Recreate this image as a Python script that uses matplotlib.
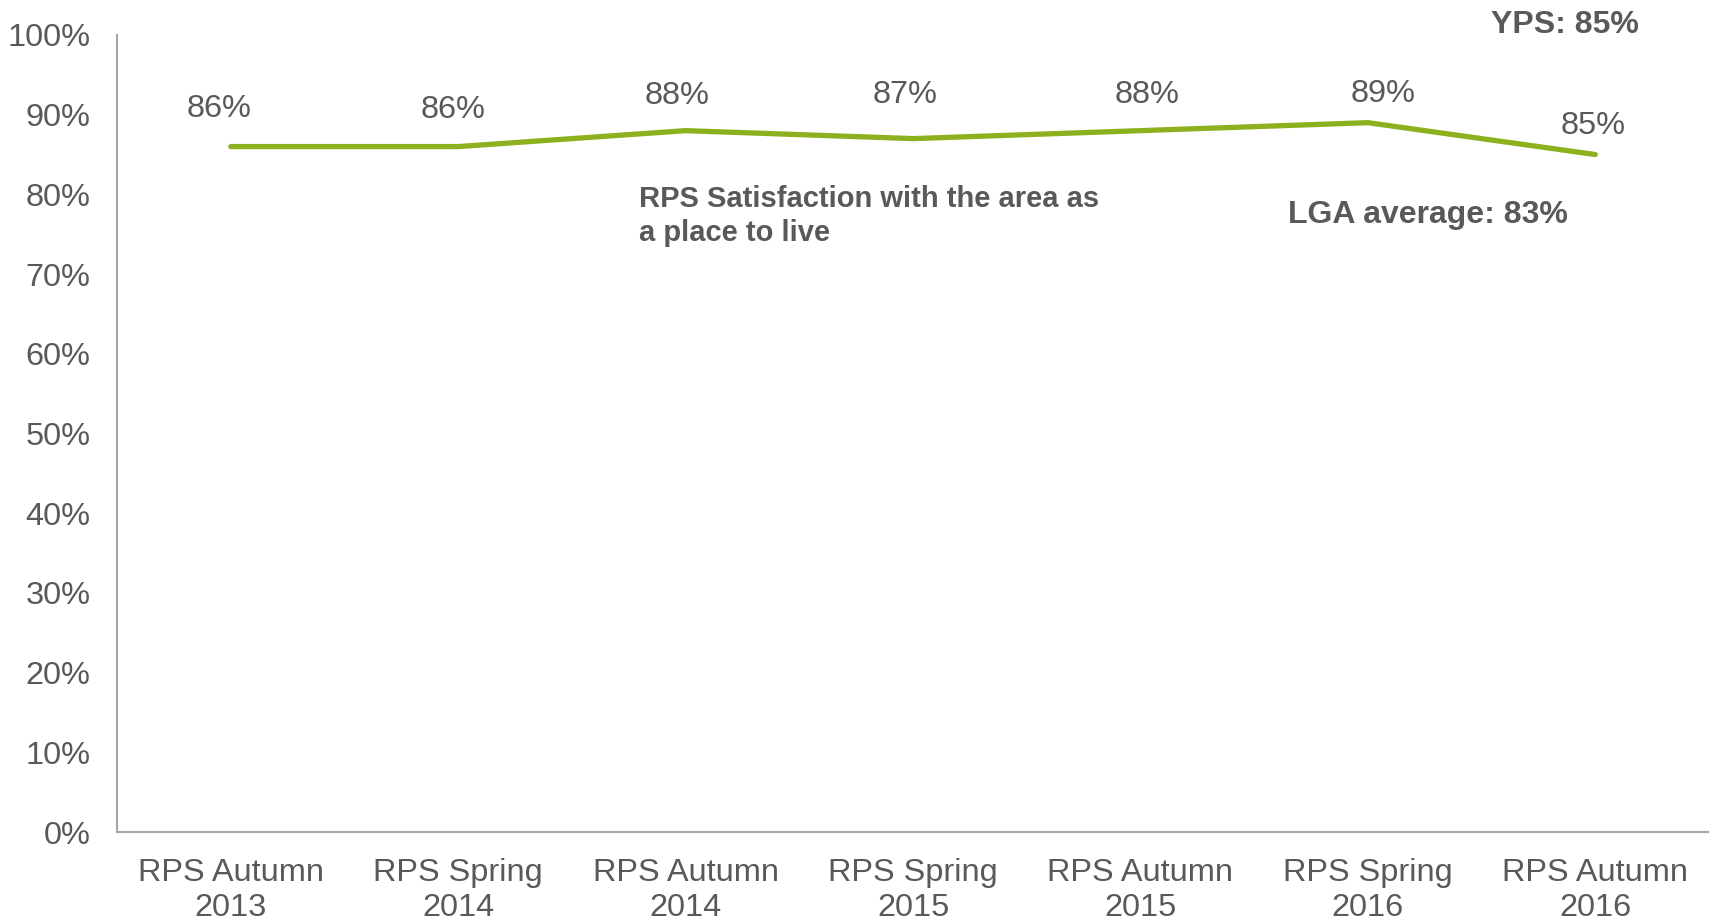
import numpy as np
import matplotlib.pyplot as plt

plt.rcParams['font.family'] = ['Liberation Sans', 'DejaVu Sans']

# survey waves and satisfaction values
waves = ['RPS Autumn\n2013', 'RPS Spring\n2014', 'RPS Autumn\n2014', 'RPS Spring\n2015',
         'RPS Autumn\n2015', 'RPS Spring\n2016', 'RPS Autumn\n2016']
satisfaction = [86, 86, 88, 87, 88, 89, 85]
yticks = [0, 10, 20, 30, 40, 50, 60, 70, 80, 90, 100]

# label nudges (points) so data labels sit like in the original
label_dx = [-8.5, -4, -6, -6, 4.5, 11, -1.5]
label_dy = [27, 26, 25, 31.5, 25.5, 21, 20.5]

grey = '#595959'
green = '#8DB01E'

fig = plt.figure(figsize=(17.09, 9.21), dpi=100)
ax = fig.add_axes([0.0685, 0.0966, 0.9315, 0.8654])

x = np.arange(len(waves))
ax.plot(x, satisfaction, color=green, lw=3.8, solid_capstyle='round')

for xi, v, dx, dy in zip(x, satisfaction, label_dx, label_dy):
    ax.annotate(f'{v}%', (xi, v), xytext=(dx, dy), textcoords='offset points',
                ha='center', va='center', fontsize=23.4, color=grey)

ax.set_xlim(-0.5, len(waves) - 0.5)
ax.set_ylim(0, 100)
ax.set_yticks(yticks)
ax.set_yticklabels([f'{t}%' for t in yticks])
ax.set_xticks(x)
ax.set_xticklabels(waves, linespacing=1.2)
ax.tick_params(axis='both', length=0, labelsize=23.4, labelcolor=grey)
ax.tick_params(axis='y', pad=19)
ax.tick_params(axis='x', pad=19)

for s in ['top', 'right']:
    ax.spines[s].set_visible(False)
for s in ['left', 'bottom']:
    ax.spines[s].set_color('#A6A6A6')
    ax.spines[s].set_linewidth(1.5)

ax.text(1.795, 77.3, 'RPS Satisfaction with the area as\na place to live', fontsize=21,
        fontweight='bold', color=grey, ha='left', va='center', linespacing=1.3)
ax.text(4.65, 77.4, 'LGA average: 83%', fontsize=23, fontweight='bold', color=grey,
        ha='left', va='center')
ax.text(5.54, 101.2, 'YPS: 85%', fontsize=23, fontweight='bold', color=grey,
        ha='left', va='center', clip_on=False)

fig.savefig('out.png', dpi=100)
